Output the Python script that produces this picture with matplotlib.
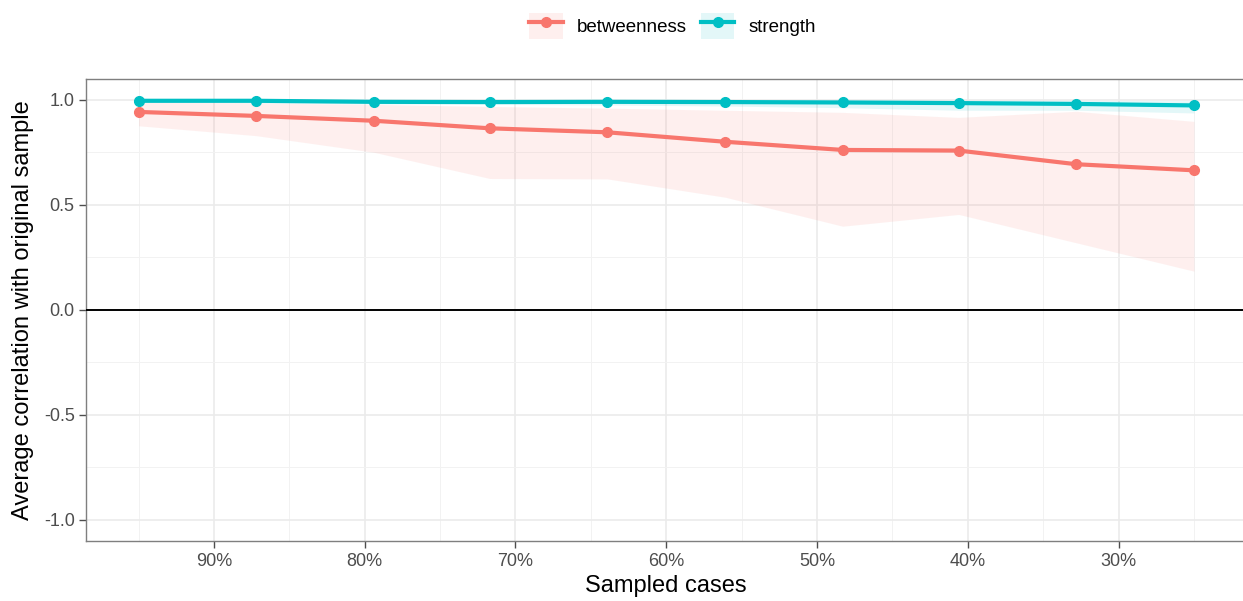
import numpy as np
import matplotlib.pyplot as plt
from matplotlib.lines import Line2D
from matplotlib.patches import Patch

plt.rcParams['font.family'] = ['Liberation Sans', 'DejaVu Sans']

# sampled cases (percent of original sample)
sampled = [95.0, 87.2, 79.4, 71.7, 63.9, 56.1, 48.3, 40.6, 32.8, 25.0]

betw_mean = [0.942, 0.923, 0.900, 0.864, 0.845, 0.800, 0.761, 0.758, 0.693, 0.664]
betw_low = [0.876, 0.829, 0.750, 0.625, 0.623, 0.536, 0.398, 0.454, 0.319, 0.184]
betw_high = [0.990, 0.985, 0.978, 0.968, 0.960, 0.950, 0.940, 0.916, 0.945, 0.897]

str_mean = [0.995, 0.995, 0.990, 0.989, 0.990, 0.989, 0.987, 0.984, 0.980, 0.973]
str_low = [0.990, 0.985, 0.980, 0.978, 0.975, 0.970, 0.962, 0.950, 0.950, 0.937]
str_high = [1.0, 1.0, 1.0, 1.0, 0.999, 0.999, 0.998, 0.998, 0.997, 0.995]

xticks = [90, 80, 70, 60, 50, 40, 30]
xticklabels = ['90%', '80%', '70%', '60%', '50%', '40%', '30%']
yticks = [-1.0, -0.5, 0.0, 0.5, 1.0]

red = '#F8766D'
cyan = '#00BFC4'

fig = plt.figure(figsize=(12.43, 6.01), dpi=100)
ax = fig.add_axes([0.0690, 0.100, 0.934, 0.769])

ax.fill_between(sampled, betw_low, betw_high, color=red, alpha=0.11, lw=0, zorder=2)
ax.fill_between(sampled, str_low, str_high, color=cyan, alpha=0.11, lw=0, zorder=2)
ax.axhline(0, color='black', lw=1.4, zorder=3)
ax.plot(sampled, betw_mean, color=red, lw=3, marker='o', ms=7, zorder=4)
ax.plot(sampled, str_mean, color=cyan, lw=3, marker='o', ms=7, zorder=5)

ax.set_xlim(98.5, 21.5)
ax.set_ylim(-1.1, 1.1)
ax.set_xticks(xticks)
ax.set_xticklabels(xticklabels)
ax.set_xticks([95, 85, 75, 65, 55, 45, 35, 25], minor=True)
ax.set_yticks(yticks)
ax.set_yticklabels(['-1.0', '-0.5', '0.0', '0.5', '1.0'])
ax.set_yticks([-0.75, -0.25, 0.25, 0.75], minor=True)

ax.grid(which='major', color='#EBEBEB', lw=1.2, zorder=0)
ax.grid(which='minor', color='#F2F2F2', lw=0.7, zorder=0)
ax.set_axisbelow(True)
for s in ax.spines.values():
    s.set_color('#7F7F7F')
    s.set_linewidth(1.0)
ax.tick_params(which='major', colors='#4D4D4D', labelsize=13, length=5, width=1)
ax.tick_params(which='minor', length=0)
ax.tick_params(axis='x', pad=4)
ax.tick_params(axis='y', pad=3)

ax.set_xlabel('Sampled cases', fontsize=17, labelpad=3)
ax.set_ylabel('Average correlation with original sample', fontsize=17, labelpad=7)

handles = [
    (Patch(facecolor=red, alpha=0.11, lw=0), Line2D([], [], color=red, lw=3, marker='o', ms=7)),
    (Patch(facecolor=cyan, alpha=0.11, lw=0), Line2D([], [], color=cyan, lw=3, marker='o', ms=7)),
]
fig.legend(handles, ['betweenness', 'strength'], loc='center', bbox_to_anchor=(0.541, 0.957),
           ncol=2, frameon=False, fontsize=13.5, handlelength=1.8, handleheight=1.8,
           columnspacing=0.75, handletextpad=0.75)

fig.savefig('out.png', dpi=100)
